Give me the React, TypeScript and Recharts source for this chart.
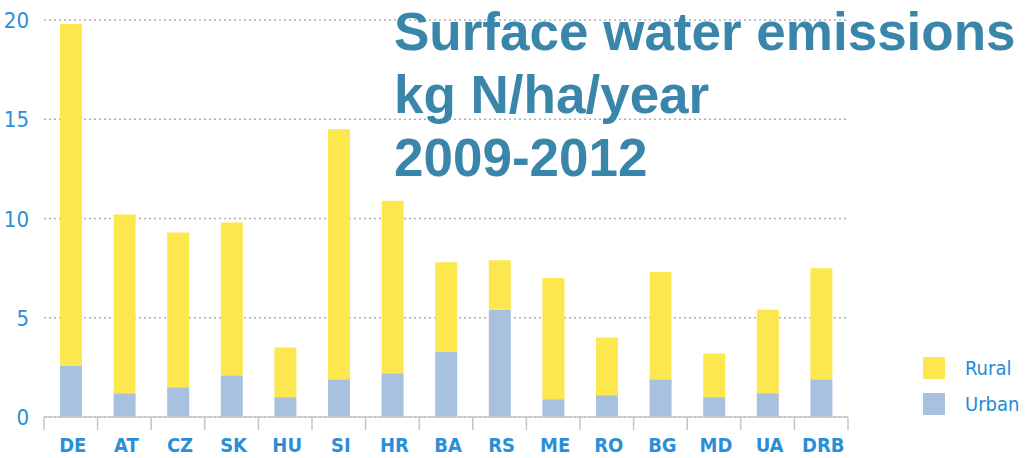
import React from "react";
import { Bar, BarChart, CartesianGrid, XAxis, YAxis } from "recharts";

const countries = ["DE", "AT", "CZ", "SK", "HU", "SI", "HR", "BA", "RS", "ME", "RO", "BG", "MD", "UA", "DRB"];
const urban = [2.6, 1.2, 1.5, 2.1, 1.0, 1.9, 2.2, 3.3, 5.4, 0.9, 1.1, 1.9, 1.0, 1.2, 1.9];
const rural = [17.2, 9.0, 7.8, 7.7, 2.5, 12.6, 8.7, 4.5, 2.5, 6.1, 2.9, 5.4, 2.2, 4.2, 5.6];
const yTicks = [0, 5, 10, 15, 20];
const titleLines = ["Surface water emissions", "kg N/ha/year", "2009-2012"];
const legendItems = [
  { name: "Rural", color: "#fde74f" },
  { name: "Urban", color: "#a7c1df" },
];

const data = countries.map((c, i) => ({ name: c, urban: urban[i], rural: rural[i] }));

const W = 1026;
const H = 458;
const PLOT_LEFT = 44;
const PLOT_RIGHT = 848;
const BAND = (PLOT_RIGHT - PLOT_LEFT) / countries.length;

const NARROW = '"Liberation Sans Narrow", "DejaVu Sans Condensed", "Liberation Sans", sans-serif';
const BLUE = "#2b8fd6";

function XTick(props: any) {
  const { x, y, payload, index } = props;
  const last = index === countries.length - 1;
  return (
    <g>
      <line x1={x - BAND / 2} x2={x - BAND / 2} y1={y} y2={y + 13} stroke="#c6c6c6" strokeWidth={1.5} />
      {last && <line x1={x + BAND / 2} x2={x + BAND / 2} y1={y} y2={y + 13} stroke="#c6c6c6" strokeWidth={1.5} />}
      <text x={x + 2} y={y + 35} textAnchor="middle" fill={BLUE} fontFamily={NARROW} fontWeight="bold" fontSize={20}>
        {payload.value}
      </text>
    </g>
  );
}

function YTick(props: any) {
  const { x, y, payload } = props;
  return (
    <text x={x - 15} y={y + 8} textAnchor="end" fill={BLUE} fontFamily={NARROW} fontSize={22}>
      {payload.value}
    </text>
  );
}

export default function App() {
  return (
    <div style={{ position: "absolute", left: 0, top: 0, width: W, height: H, background: "#fff", overflow: "hidden" }}>
      <BarChart
        width={W}
        height={H}
        data={data}
        barSize={22}
        margin={{ top: 20, right: W - PLOT_RIGHT, bottom: 5, left: 0 }}
      >
        <CartesianGrid vertical={false} stroke="#b0b0b0" strokeDasharray="2 3" strokeWidth={1.5} />
        <XAxis
          dataKey="name"
          height={36}
          tickSize={0}
          tickMargin={0}
          tickLine={false}
          axisLine={{ stroke: "#c6c6c6", strokeWidth: 1.5 }}
          tick={<XTick />}
          interval={0}
        />
        <YAxis
          width={PLOT_LEFT}
          domain={[0, 20]}
          ticks={yTicks}
          tickSize={0}
          tickMargin={0}
          tickLine={false}
          axisLine={false}
          tick={<YTick />}
        />
        <Bar dataKey="urban" name="Urban" stackId="a" fill="#a7c1df" isAnimationActive={false} />
        <Bar dataKey="rural" name="Rural" stackId="a" fill="#fde74f" isAnimationActive={false} />
      </BarChart>
      <div style={{ position: "absolute", left: 923, top: 350 }}>
        {legendItems.map((it) => (
          <div key={it.name} style={{ display: "flex", alignItems: "center", height: 36 }}>
            <div style={{ width: 22, height: 22, background: it.color, marginRight: 20 }} />
            <span style={{ fontFamily: NARROW, fontSize: 20, color: "#1f8ad6", whiteSpace: "nowrap" }}>{it.name}</span>
          </div>
        ))}
      </div>
      <div
        style={{
          position: "absolute",
          left: 394,
          top: 0,
          fontFamily: '"Liberation Sans", Arial, sans-serif',
          fontWeight: "bold",
          fontSize: 53,
          lineHeight: "63px",
          color: "#3a86ab",
          whiteSpace: "nowrap",
        }}
      >
        {titleLines.map((l) => (
          <div key={l}>{l}</div>
        ))}
      </div>
    </div>
  );
}
